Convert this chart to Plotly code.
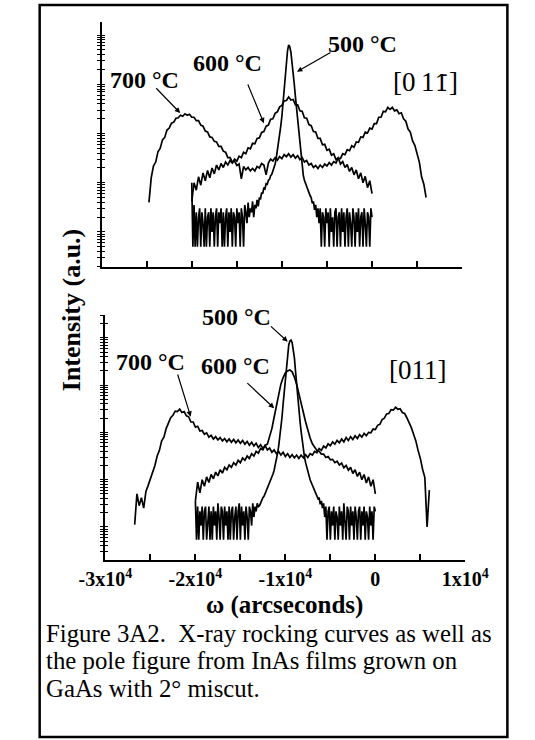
import numpy as np
import plotly.graph_objects as go

# ---------------- data (log10 intensity, a.u.) ----------------
STEP = 250        # sampling of the 600 / 700 °C scans (arcsec)
STEP_500 = 125    # sampling of the 500 °C scans (arcsec)

# upper panel  [0 1 -1]
top_700_start = -24750
top_700_log = [0.60, 1.10, 1.34, 1.42, 1.63, 1.70, 1.87, 1.92, 2.07, 2.11, 2.21, 2.23, 2.31, 2.32, 2.37, 2.35,
               2.40, 2.37, 2.39, 2.33, 2.33, 2.26, 2.26, 2.17, 2.15, 2.05, 2.03, 1.93, 1.92, 1.84, 1.83, 1.74,
               1.74, 1.64, 1.62, 1.51, 1.51, 1.42, 1.44, 1.35, 1.38, 1.08, 1.33, 1.26, 1.31, 1.24, 1.29, 1.24,
               1.33, 1.30, 1.39, 1.36, 1.16, 1.40, 1.48, 1.44, 1.51, 1.46, 1.53, 1.49, 1.57, 1.53, 1.59, 1.52,
               1.57, 1.50, 1.55, 1.47, 1.51, 1.42, 1.45, 1.36, 1.39, 1.31, 1.35, 1.29, 1.36, 1.31, 1.38, 1.34,
               1.41, 1.36, 1.43, 1.40, 1.50, 1.49, 1.59, 1.57, 1.67, 1.65, 1.75, 1.72, 1.83, 1.82, 1.93, 1.92,
               2.03, 2.01, 2.11, 2.09, 2.20, 2.20, 2.33, 2.33, 2.45, 2.44, 2.53, 2.49, 2.53, 2.46, 2.48, 2.40,
               2.42, 2.30, 2.25, 2.09, 2.03, 1.85, 1.76, 1.57, 1.42, 1.12, 0.97, 0.70]

top_600_start = -20000
top_600_log = [0.62, 1.00, 0.85, 1.12, 0.95, 1.20, 1.04, 1.25, 1.10, 1.30, 1.18, 1.36, 1.26, 1.39, 1.31, 1.42,
               1.36, 1.45, 1.40, 1.48, 1.44, 1.54, 1.51, 1.62, 1.59, 1.71, 1.69, 1.80, 1.79, 1.90, 1.91, 2.02,
               2.04, 2.15, 2.17, 2.29, 2.30, 2.41, 2.44, 2.54, 2.57, 2.66, 2.67, 2.74, 2.68, 2.69, 2.58, 2.58,
               2.46, 2.45, 2.32, 2.31, 2.18, 2.16, 2.04, 2.03, 1.90, 1.90, 1.77, 1.78, 1.66, 1.68, 1.56, 1.59,
               1.47, 1.51, 1.38, 1.43, 1.31, 1.37, 1.23, 1.31, 1.16, 1.26, 1.08, 1.20, 1.00, 1.13, 0.90, 1.04,
               0.78]

top_500_start = -20000
top_500_log = [1.00, -0.30, 0.55, -0.30, 0.40, -0.30, 0.30, 0.48, -0.30, 0.40, 0.18, -0.30, 0.48, -0.30, 0.30,
               0.40, -0.30, 0.48, 0.00, 0.40, -0.30, 0.30, 0.48, -0.30, 0.40, 0.18, 0.48, -0.30, 0.40, -0.30,
               0.30, 0.48, -0.30, 0.40, 0.00, 0.48, -0.30, 0.40, 0.30, -0.30, 0.48, 0.18, 0.40, -0.30, 0.48,
               0.30, -0.30, 0.55, 0.40, 0.18, 0.60, 0.30, 0.48, 0.40, 0.62, 0.30, 0.55, 0.48, 0.65, 0.52,
               0.70, 0.66, 0.80, 0.78, 0.90, 0.88, 0.98, 0.97, 1.05, 1.07, 1.14, 1.17, 1.24, 1.30, 1.38,
               1.50, 1.65, 1.80, 1.97, 2.15, 2.35, 2.62, 2.90, 3.18, 3.45, 3.68, 3.80, 3.76, 3.65, 3.47,
               3.25, 3.00, 2.75, 2.50, 2.25, 2.00, 1.75, 1.50, 1.30, 1.15, 1.05, 0.98, 0.92, 0.86, 0.80,
               0.74, 0.70, 0.58, 0.62, 0.45, 0.55, 0.30, 0.48, 0.18, 0.48, -0.30, 0.40, 0.30, -0.30, 0.48,
               0.18, 0.40, -0.30, 0.48, 0.00, 0.30, -0.30, 0.40, 0.48, -0.30, 0.30, 0.40, -0.30, 0.48, 0.00,
               0.40, -0.30, 0.30, 0.48, -0.30, 0.40, 0.18, -0.30, 0.48, 0.30, -0.30, 0.40, 0.00, 0.48, -0.30,
               0.30, 0.40, -0.30, 0.48, 0.18, -0.30, 0.40, 0.30, -0.30, 0.48, 0.30]

# lower panel  [011]
bot_700_start = -26750
bot_700_log = [0.05, 0.70, 0.45, 0.62, 0.40, 0.75, 0.88, 1.02, 1.20, 1.30, 1.50, 1.62, 1.82, 1.90, 2.08, 2.18,
               2.31, 2.36, 2.45, 2.44, 2.49, 2.42, 2.44, 2.35, 2.33, 2.22, 2.22, 2.11, 2.13, 2.03, 2.04, 1.96,
               1.99, 1.90, 1.94, 1.86, 1.91, 1.84, 1.89, 1.82, 1.87, 1.80, 1.86, 1.79, 1.85, 1.78, 1.84, 1.77,
               1.83, 1.75, 1.81, 1.73, 1.79, 1.71, 1.77, 1.68, 1.74, 1.66, 1.72, 1.63, 1.67, 1.58, 1.63, 1.55,
               1.60, 1.52, 1.58, 1.49, 1.55, 1.47, 1.53, 1.46, 1.52, 1.45, 1.52, 1.46, 1.53, 1.47, 1.55, 1.52,
               1.60, 1.57, 1.66, 1.62, 1.71, 1.67, 1.76, 1.72, 1.80, 1.75, 1.83, 1.78, 1.86, 1.80, 1.89, 1.83,
               1.91, 1.85, 1.93, 1.87, 1.95, 1.90, 1.98, 1.93, 2.00, 1.99, 2.07, 2.06, 2.15, 2.17, 2.27, 2.30,
               2.39, 2.40, 2.48, 2.47, 2.53, 2.49, 2.50, 2.42, 2.40, 2.31, 2.22, 2.10, 1.96, 1.82, 1.62, 1.45,
               1.22, 1.05, 0.00, 0.78]

bot_600_start = -20000
bot_600_log = [0.55, 0.95, 0.72, 1.00, 0.86, 1.06, 0.94, 1.11, 1.02, 1.16, 1.08, 1.21, 1.14, 1.26, 1.21, 1.31,
               1.26, 1.36, 1.31, 1.41, 1.36, 1.46, 1.41, 1.50, 1.45, 1.55, 1.50, 1.60, 1.56, 1.66, 1.63, 1.73,
               1.75, 1.90, 2.08, 2.32, 2.56, 2.80, 3.02, 3.16, 3.26, 3.30, 3.32, 3.28, 3.17, 3.02, 2.84, 2.63,
               2.42, 2.22, 2.03, 1.88, 1.76, 1.70, 1.62, 1.60, 1.54, 1.54, 1.47, 1.49, 1.42, 1.43, 1.36, 1.39,
               1.31, 1.35, 1.25, 1.30, 1.20, 1.26, 1.13, 1.21, 1.07, 1.16, 1.00, 1.11, 0.93, 1.06, 0.86, 1.00,
               0.70]

bot_500_start = -20000
bot_500_log = [0.55, -0.27, 0.43, -0.27, 0.33, 0.03, 0.43, -0.27, 0.33, 0.43, -0.27, 0.21, 0.43, -0.27, 0.33,
               -0.27, 0.43, 0.03, 0.33, -0.27, 0.50, 0.21, -0.27, 0.43, 0.33, -0.27, 0.43, 0.03, 0.33, -0.27,
               0.43, -0.27, 0.33, 0.43, -0.27, 0.21, 0.43, -0.27, 0.33, 0.50, -0.27, 0.43, 0.03, 0.33, -0.27,
               0.43, 0.21, -0.27, 0.43, 0.33, 0.03, 0.50, 0.21, 0.43, 0.33, 0.50, 0.43, 0.45, 0.52, 0.56,
               0.62, 0.65, 0.71, 0.77, 0.82, 0.88, 0.92, 0.97, 1.04, 1.12, 1.20, 1.30, 1.42, 1.55, 1.70,
               1.88, 2.08, 2.32, 2.60, 2.85, 3.10, 3.42, 3.72, 3.85, 3.93, 3.95, 3.90, 3.78, 3.58, 3.30,
               3.00, 2.73, 2.48, 2.24, 2.02, 1.80, 1.62, 1.48, 1.36, 1.26, 1.17, 1.08, 1.00, 0.94, 0.88,
               0.83, 0.78, 0.73, 0.68, 0.60, 0.62, 0.48, 0.55, 0.40, 0.50, 0.21, 0.43, -0.27, 0.33, 0.43,
               -0.27, 0.33, 0.03, 0.43, -0.27, 0.33, 0.21, -0.27, 0.43, 0.03, 0.33, -0.27, 0.50, 0.21, -0.27,
               0.43, 0.33, -0.27, 0.43, 0.03, 0.33, -0.27, 0.43, 0.21, -0.27, 0.33, 0.43, -0.27, 0.33, 0.03,
               0.43, -0.27, 0.33, 0.21, -0.27, 0.43, 0.03, 0.33, -0.27, 0.43, 0.33]

x_tickvals = [-30000, -20000, -10000, 0, 10000]
x_ticktext = ["-3x10<sup>4</sup>", "-2x10<sup>4</sup>", "-1x10<sup>4</sup>", "0", "1x10<sup>4</sup>"]
x_minor_step = 5000
y_tickvals = [k * 10.0 ** d for d in range(-1, 5) for k in range(1, 10)]

# ---------------- layout helpers ----------------
W, H = 535, 740
FONT = "Liberation Serif, Times New Roman, serif"
LW = 1.7


def px(x):
    return x / W


def py(y):
    return 1 - y / H


fig = go.Figure()


def add_curve(start, step, logs, xa, ya):
    x = start + step * np.arange(len(logs))
    y = 10.0 ** np.array(logs)
    fig.add_trace(go.Scatter(x=x, y=y, mode="lines", line=dict(color="black", width=LW),
                             xaxis=xa, yaxis=ya, showlegend=False, hoverinfo="skip"))


add_curve(top_700_start, STEP, top_700_log, "x", "y")
add_curve(top_600_start, STEP, top_600_log, "x", "y")
add_curve(top_500_start, STEP_500, top_500_log, "x", "y")
add_curve(bot_700_start, STEP, bot_700_log, "x2", "y2")
add_curve(bot_600_start, STEP, bot_600_log, "x2", "y2")
add_curve(bot_500_start, STEP_500, bot_500_log, "x2", "y2")
# empty traces so the overlay tick axes are drawn
fig.add_trace(go.Scatter(x=[], y=[], xaxis="x", yaxis="y3", showlegend=False))
fig.add_trace(go.Scatter(x=[], y=[], xaxis="x2", yaxis="y4", showlegend=False))

top_dom_y = [py(267), py(22)]
bot_dom_y = [py(560), py(315)]
top_rng_y = [-0.711, 4.264]
bot_rng_y = [-0.698, 4.482]

xcommon = dict(range=[-30000, 10000], showline=True, linecolor="black", linewidth=2, showgrid=False,
               zeroline=False, ticks="inside", ticklen=6, tickwidth=1.5, tickcolor="black",
               tickmode="array", tickvals=x_tickvals,
               minor=dict(tickmode="linear", tick0=0, dtick=x_minor_step, ticks="inside", ticklen=6,
                          tickwidth=1.5, tickcolor="black", showgrid=False))
ycommon = dict(type="log", showline=True, linecolor="black", linewidth=2, showgrid=False, zeroline=False,
               ticks="outside", ticklen=3, tickwidth=1.2, tickcolor="black", tickmode="array",
               tickvals=y_tickvals, showticklabels=False)
yover = dict(type="log", showline=False, showgrid=False, zeroline=False, ticks="inside", ticklen=3,
             tickwidth=1.2, tickcolor="black", tickmode="array", tickvals=y_tickvals, showticklabels=False)

fig.update_layout(
    width=W, height=H, margin=dict(l=0, r=0, t=0, b=0),
    paper_bgcolor="white", plot_bgcolor="white", showlegend=False,
    xaxis=dict(domain=[px(82.5), px(481)], anchor="y", showticklabels=False, **xcommon),
    yaxis=dict(domain=top_dom_y, anchor="x", range=top_rng_y, **ycommon),
    yaxis3=dict(overlaying="y", anchor="x", range=top_rng_y, **yover),
    xaxis2=dict(domain=[px(86.7), px(484.5)], anchor="y2", ticktext=x_ticktext,
                tickfont=dict(family=FONT, size=20, color="black", weight="bold"), **xcommon),
    yaxis2=dict(domain=bot_dom_y, anchor="x2", range=bot_rng_y, **ycommon),
    yaxis4=dict(overlaying="y2", anchor="x2", range=bot_rng_y, **yover),
)

ann = []


def label(text, x, y, size, bold=False, xanchor="center", angle=0):
    ann.append(dict(text=text, x=px(x), y=py(y), xref="paper", yref="paper", showarrow=False,
                    xanchor=xanchor, yanchor="middle", textangle=angle,
                    font=dict(family=FONT, size=size, color="black", weight=700 if bold else 400)))


def arrow(xa, ya, hx, hylog, ax, ay):
    ann.append(dict(text="", x=hx, y=hylog, xref=xa, yref=ya, ax=ax, ay=ay, axref="pixel", ayref="pixel",
                    showarrow=True, arrowhead=2, arrowsize=0.9, arrowwidth=1.2, arrowcolor="black",
                    standoff=0, startstandoff=0))


# upper panel labels
label("700 °C", 130, 80, 24, bold=True)
label("600 °C", 222, 63, 24, bold=True)
label("500 °C", 371, 44, 24, bold=True)
label("[0\u20091<span style='font-family:DejaVu Serif;font-size:23px'>1\u0304</span>]", 440, 82, 27)
arrow("x", "y", -21283, 2.416, -25.4, -26.3)
arrow("x", "y", -11994, 2.207, -16.7, -40.3)
arrow("x", "y", -8327, 3.255, 35.0, -20.0)

# lower panel labels
label("500 °C", 232, 317, 24, bold=True)
label("700 °C", 136, 362, 24, bold=True)
label("600 °C", 230, 366, 24, bold=True)
label("[011]", 432, 370, 27)
arrow("x2", "y2", -9739, 3.918, -18.3, -16.7)
arrow("x2", "y2", -20523, 2.332, -13.5, -43.7)
arrow("x2", "y2", -11246, 2.510, -28.3, -26.6)

# axis titles
label("Intensity (a.u.)", 50, 310, 26, bold=True, angle=-90)
label("\u03c9 (arcseconds)", 285, 605, 25, bold=True)

# caption
label("Figure 3A2.\u00a0 X-ray rocking curves as well as", 19, 633, 24.8, xanchor="left")
label("the pole figure from InAs films grown on", 19, 660.5, 24.8, xanchor="left")
label("GaAs with 2° miscut.", 19, 688, 24.8, xanchor="left")

fig.update_layout(annotations=ann)

fig.add_shape(type="rect", xref="paper", yref="paper", x0=px(14), x1=px(531), y0=py(737), y1=py(5),
              line=dict(color="black", width=2.5), fillcolor="rgba(0,0,0,0)")

fig.write_html("out.html", config={"displayModeBar": False},
               post_script="document.body.style.margin='0';document.body.style.overflow='hidden';")
